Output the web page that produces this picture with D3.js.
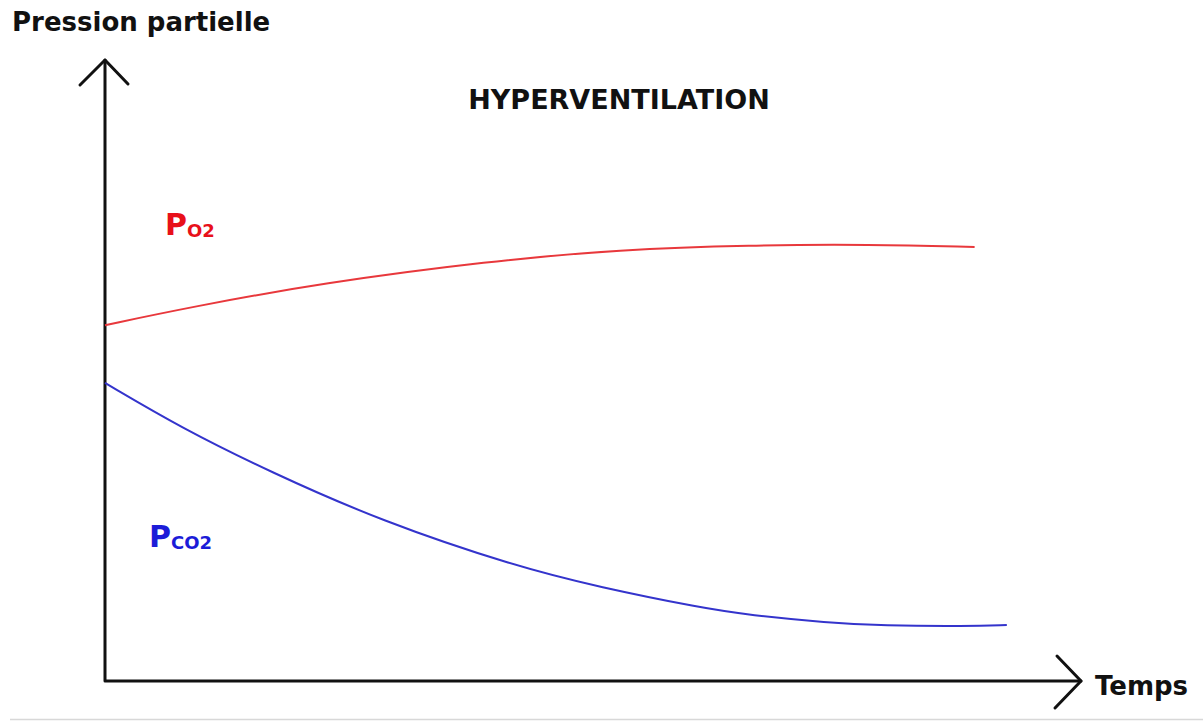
<!DOCTYPE html>
<html>
<head>
<meta charset="utf-8">
<script src="https://cdn.jsdelivr.net/npm/d3@7"></script>
<style>
    body { margin: 0; background: #fff; }
    svg text { font-family: "DejaVu Sans", Verdana, sans-serif; font-weight: bold; }
</style>
</head>
<body>
<div id="chart"></div>
<script>
"use strict";

// time (arbitrary units) and partial pressure (arbitrary units)
var o2Time = [0, 8.7, 22.3, 39.4, 52.8, 66.1, 78.4, 89.1];
var o2Pressure = [57.3, 60.2, 64.1, 67.6, 69.5, 70.2, 70.3, 69.9];

var co2Time = [0, 8.0, 16.9, 28.2, 42.2, 50.7, 61, 66.1, 74.0, 79.7, 88.3, 92.4];
var co2Pressure = [48.0, 40.6, 33.7, 25.8, 18.4, 15.1, 11.8, 10.6, 9.4, 8.9, 8.8, 9.0];

var title = "HYPERVENTILATION",
    yLabel = "Pression partielle",
    xLabel = "Temps";

(function () {
    var width = 1203,
        height = 722,
        svg,
        x,
        y,
        line;

    svg = d3.select("#chart").append("svg")
        .attr("width", width)
        .attr("height", height);

    x = d3.scaleLinear().domain([0, 100]).range([105, 1081]);
    y = d3.scaleLinear().domain([0, 100]).range([681, 60]);

    line = d3.line()
        .x(function (d) { return x(d.t); })
        .y(function (d) { return y(d.p); })
        .curve(d3.curveBasis);

    function zip(ts, ps) {
        return ts.map(function (t, i) {
            return { t: t, p: ps[i] };
        });
    }

    // thin grey rule at the bottom of the picture
    svg.append("line")
        .attr("x1", 10).attr("x2", width)
        .attr("y1", 719.5).attr("y2", 719.5)
        .attr("stroke", "#d8d8d8")
        .attr("stroke-width", 1.5);

    // axes drawn as hand-style arrows
    var axes = svg.append("g")
        .attr("fill", "none")
        .attr("stroke", "#111")
        .attr("stroke-width", 3)
        .attr("stroke-linecap", "round")
        .attr("stroke-linejoin", "round");

    axes.append("path")
        .attr("d", "M" + x(0) + "," + y(100) + " L" + x(0) + "," + y(0) +
            " L" + x(100) + "," + y(0));

    axes.append("path")
        .attr("d", "M" + (x(0) - 25) + "," + (y(100) + 25) +
            " L" + x(0) + "," + y(100) +
            " L" + (x(0) + 23) + "," + (y(100) + 24));

    axes.append("path")
        .attr("d", "M" + (x(100) - 24) + "," + (y(0) - 25) +
            " L" + x(100) + "," + y(0) +
            " L" + (x(100) - 26) + "," + (y(0) + 27));

    svg.append("path")
        .datum(zip(o2Time, o2Pressure))
        .attr("fill", "none")
        .attr("stroke", "#e8383c")
        .attr("stroke-width", 2)
        .attr("d", line);

    svg.append("path")
        .datum(zip(co2Time, co2Pressure))
        .attr("fill", "none")
        .attr("stroke", "#3434cc")
        .attr("stroke-width", 2)
        .attr("d", line);

    svg.append("text")
        .attr("x", 12).attr("y", 31)
        .attr("font-size", 26)
        .attr("fill", "#111")
        .text(yLabel);

    svg.append("text")
        .attr("x", 619).attr("y", 109)
        .attr("text-anchor", "middle")
        .attr("font-size", 27)
        .attr("fill", "#111")
        .text(title);

    svg.append("text")
        .attr("x", 1095).attr("y", 695)
        .attr("font-size", 26)
        .attr("fill", "#111")
        .text(xLabel);

    var o2Label = svg.append("text")
        .attr("x", 165).attr("y", 235)
        .attr("fill", "#e8101a");
    o2Label.append("tspan").attr("font-size", 30).text("P");
    o2Label.append("tspan").attr("font-size", 18).attr("dy", 2).text("O2");

    var co2Label = svg.append("text")
        .attr("x", 149).attr("y", 547)
        .attr("fill", "#1c1cd8");
    co2Label.append("tspan").attr("font-size", 30).text("P");
    co2Label.append("tspan").attr("font-size", 18).attr("dy", 2).text("CO2");
}());
</script>
</body>
</html>
